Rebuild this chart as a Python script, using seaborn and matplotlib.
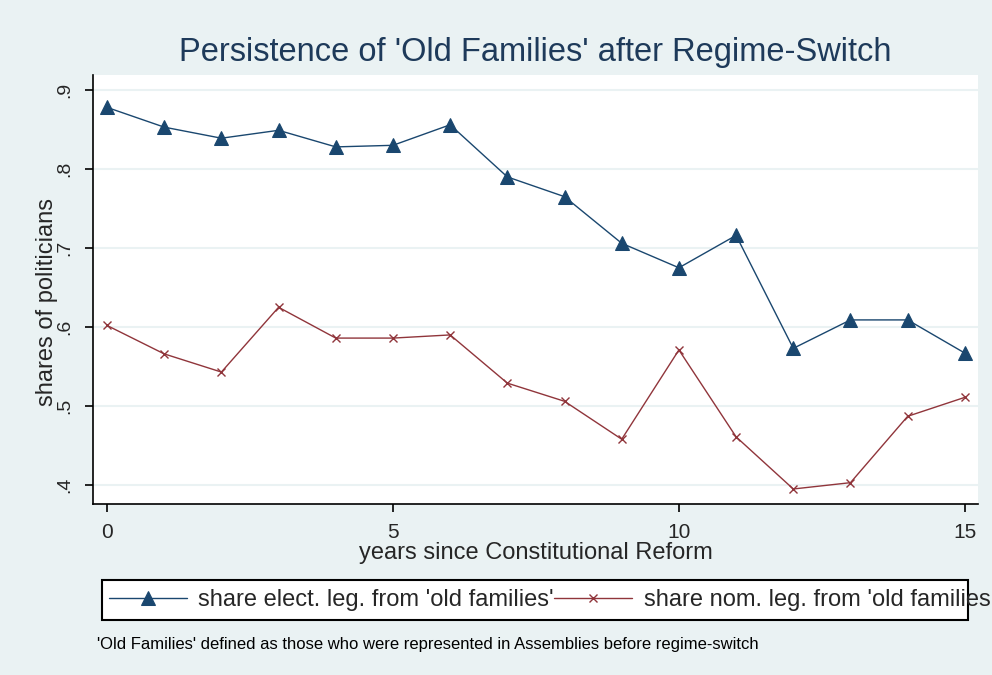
import matplotlib
matplotlib.use("Agg")
import matplotlib.pyplot as plt
import seaborn as sns
import pandas as pd
from matplotlib.ticker import FuncFormatter
from matplotlib.patches import Rectangle

years = list(range(16))
share_elect = [0.878, 0.853, 0.839, 0.849, 0.828, 0.830, 0.856, 0.790,
               0.765, 0.706, 0.675, 0.716, 0.573, 0.609, 0.609, 0.567]
share_nom = [0.602, 0.566, 0.543, 0.625, 0.586, 0.586, 0.590, 0.529,
             0.506, 0.458, 0.571, 0.461, 0.395, 0.403, 0.487, 0.511]
series_labels = ["share elect. leg. from 'old families'",
                 "share nom. leg. from 'old families'"]
y_ticks = [0.4, 0.5, 0.6, 0.7, 0.8, 0.9]
x_ticks = [0, 5, 10, 15]
title = "Persistence of 'Old Families' after Regime-Switch"
xlabel = "years since Constitutional Reform"
ylabel = "shares of politicians"
note = "'Old Families' defined as those who were represented in Assemblies before regime-switch"

sns.set_style("white")
plt.rcParams['font.family'] = ['Liberation Sans', 'DejaVu Sans']

bg = "#EAF2F3"
blue = "#1a476f"
red = "#90353b"

df = pd.DataFrame({
    "year": years * 2,
    "value": share_elect + share_nom,
    "series": [series_labels[0]] * 16 + [series_labels[1]] * 16,
})

W, H = 992, 675
fig = plt.figure(figsize=(W / 100, H / 100), dpi=100, facecolor=bg)
ax = fig.add_axes([93 / W, 1 - 504 / H, (978 - 93) / W, (504 - 75) / H])
ax.set_facecolor("white")

sns.lineplot(data=df[df.series == series_labels[0]], x="year", y="value",
             color=blue, marker="^", markersize=10, markeredgecolor=blue,
             linewidth=1.0, ax=ax, label=series_labels[0])
sns.lineplot(data=df[df.series == series_labels[1]], x="year", y="value",
             color=red, marker="x", markersize=6, markeredgewidth=1.0,
             markeredgecolor=red, linewidth=1.0, ax=ax, label=series_labels[1])

ax.set_xlim(-0.245, 15.23)
ax.set_ylim(0.376, 0.919)
ax.set_xticks(x_ticks)
ax.set_yticks(y_ticks)
ax.yaxis.set_major_formatter(FuncFormatter(lambda v, p: ("%.1f" % v).lstrip("0")))
ax.grid(axis="y", color=bg, linewidth=1.5)
ax.grid(axis="x", visible=False)
for s in ["top", "right"]:
    ax.spines[s].set_visible(False)
for s in ["left", "bottom"]:
    ax.spines[s].set_color("black")
    ax.spines[s].set_linewidth(1.2)
ax.tick_params(axis="both", direction="out", length=6, width=1.2, color="black",
               left=True, bottom=True)
ax.tick_params(axis="x", labelsize=15, pad=8)
ax.tick_params(axis="y", labelsize=14, pad=8)
for lab in ax.get_yticklabels():
    lab.set_rotation(90)
    lab.set_va("center")
ax.set_xlabel(xlabel, fontsize=17, labelpad=0)
ax.set_ylabel(ylabel, fontsize=17)
ax.yaxis.set_label_coords((58 - 93) / 885, 0.47)

handles, labels = ax.get_legend_handles_labels()
ax.get_legend().remove()

# legend box (text overflows the box, like the reference)
box = Rectangle((102 / W, 1 - 620 / H), (968 - 102) / W, 40 / H,
                transform=fig.transFigure, facecolor="white",
                edgecolor="black", linewidth=1.5, zorder=1)
fig.add_artist(box)
leg = fig.legend(handles, labels, loc="center left",
                 bbox_to_anchor=(104 / W, 1 - 600 / H), ncol=2,
                 frameon=False, fontsize=17, handlelength=3.3,
                 handletextpad=0.5, columnspacing=0.0, borderpad=0.2,
                 borderaxespad=0)
leg.set_zorder(2)

fig.text(535 / W, 1 - 52 / H, title, ha="center", va="center",
         fontsize=23.5, color="#1e3a5a")
fig.text(97 / W, 1 - 644 / H, note, ha="left", va="center", fontsize=12,
         color="black")

fig.savefig("out.png", dpi=100, facecolor=bg)
